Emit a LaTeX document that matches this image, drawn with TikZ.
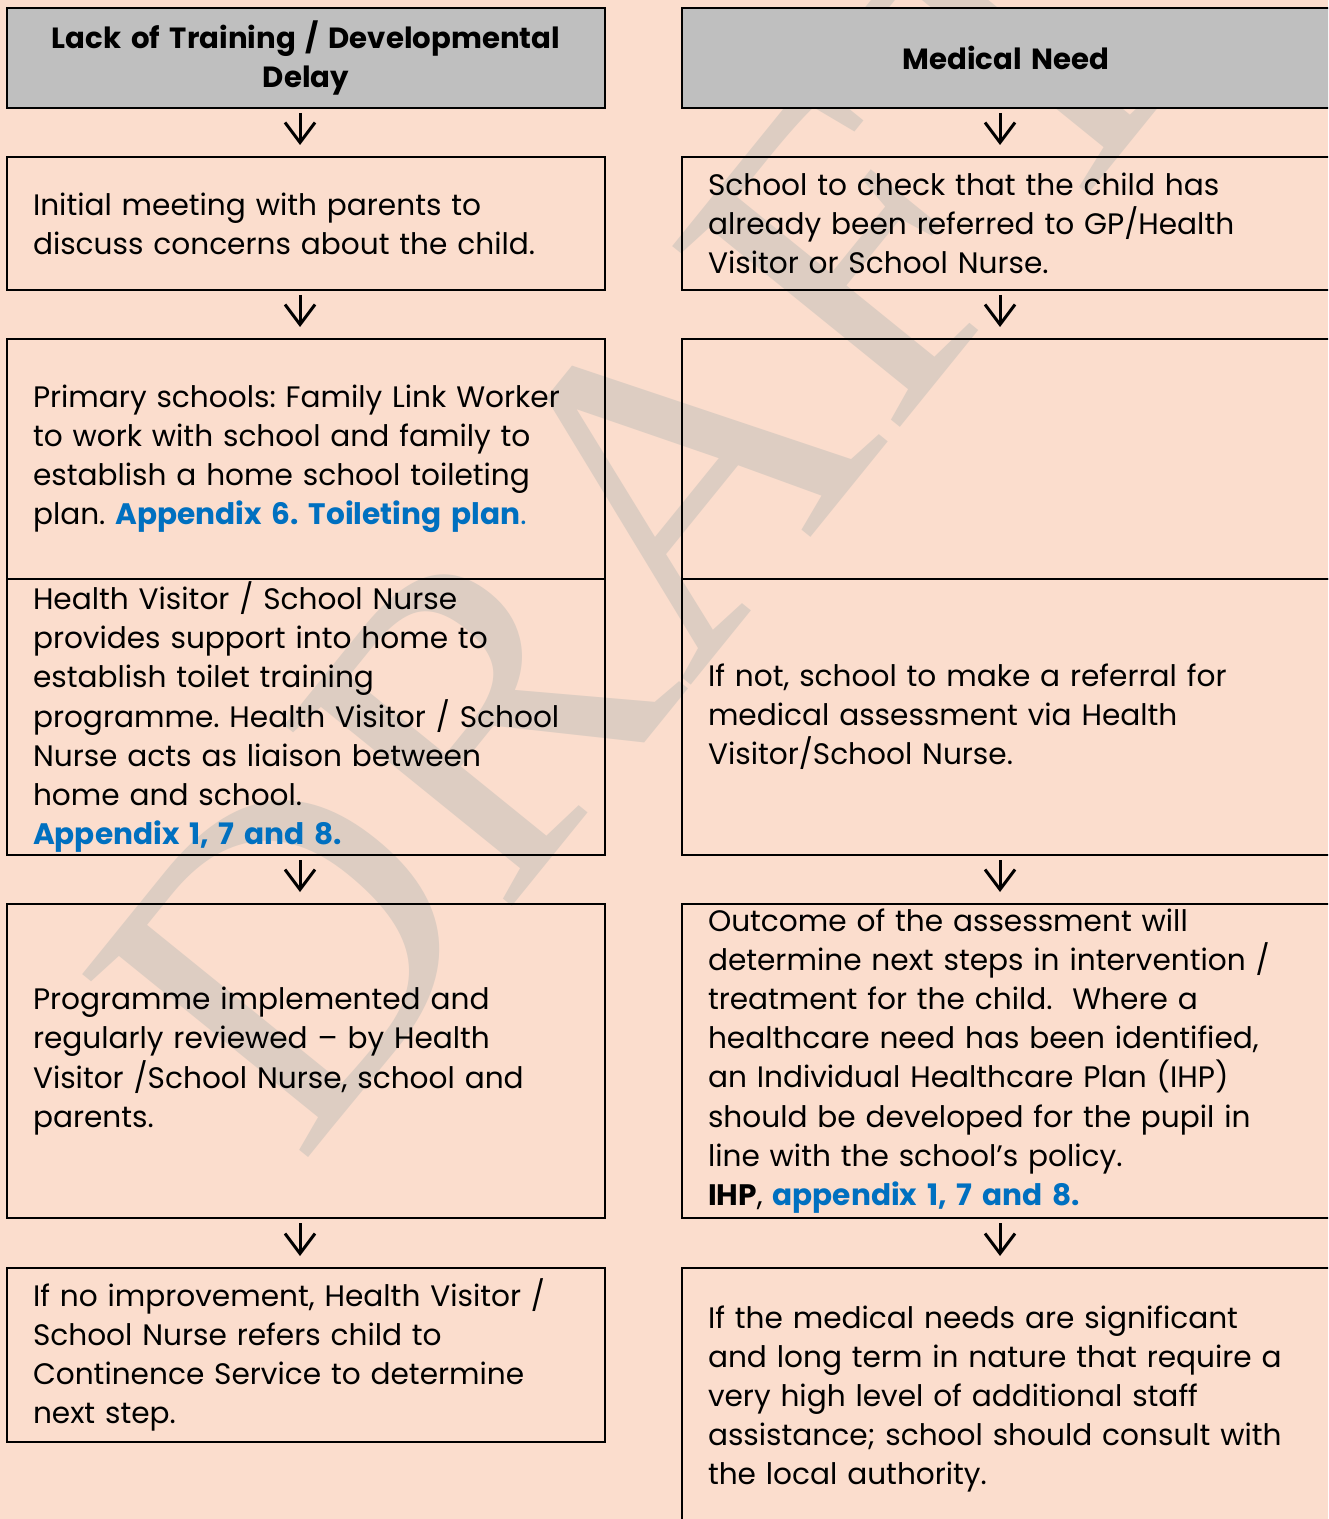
\documentclass[tikz,border=0pt]{standalone}
\usepackage{fontspec}
\setmainfont{Poppins}
\newfontfamily\wmfont{Liberation Serif}
\usetikzlibrary{arrows.meta}
\frenchspacing

\definecolor{pagepeach}{RGB}{251,221,205}
\definecolor{headgray}{RGB}{191,191,191}
\definecolor{linkblue}{RGB}{0,112,192}
\definecolor{wmgray}{RGB}{221,205,194}

\newcommand{\apx}[1]{\textcolor{linkblue}{\bfseries #1}}

\tikzset{
  flowbox/.style={draw, line width=1pt, inner xsep=13pt, inner ysep=0pt, align=left,
    font=\fontsize{14.8}{19.6}\selectfont},
  leftbox/.style={flowbox, text width=273pt},
  rightbox/.style={flowbox, text width=298pt},
  headbox/.style={fill=headgray, align=center, font=\fontsize{14.6}{19.6}\selectfont\bfseries},
  nextstep/.style={-{Straight Barb[length=10pt,width=15pt,line width=1.5pt]}, line width=1.5pt,
    shorten <=2pt, shorten >=5.5pt}
}

\begin{document}
\begin{tikzpicture}[x=0.5pt,y=-0.5pt]
  \useasboundingbox (0,0) rectangle (1328,1519);
  \clip (0,0) rectangle (1328,1519);
  \fill[pagepeach] (0,0) rectangle (1328,1519);

  % watermark
  \node[rotate=51, text=wmgray, font=\wmfont\fontsize{222}{222}\selectfont] (draft) at (645,510) {DRAFT};

  % left column
  \node[leftbox, headbox, minimum height=50pt] (lhead) at (306,58)
    {Lack of Training / Developmental\\ Delay};
  \node[leftbox, minimum height=66.5pt] (lmeet) at (306,223.5)
    {Initial meeting with parents to\\ discuss concerns about the child.};
  \node[leftbox, minimum height=120pt] (lplan) at (306,459)
    {Primary schools: Family Link Worker\\ to work with school and family to\\
     establish a home school toileting\\ plan. \apx{Appendix 6. Toileting plan}\textcolor{linkblue}{.}};
  \node[leftbox, minimum height=138pt] (lhv) at (306,717)
    {Health Visitor / School Nurse\\ provides support into home to\\ establish toilet training\\
     programme. Health Visitor / School\\ Nurse acts as liaison between\\ home and school.\\
     \apx{Appendix 1, 7 and 8.}};
  \node[leftbox, minimum height=157pt] (lreview) at (306,1061)
    {Programme implemented and\\ regularly reviewed -- by Health\\
     Visitor /School Nurse, school and\\ parents.};
  \node[leftbox, minimum height=87pt] (lrefer) at (306,1355)
    {If no improvement, Health Visitor /\\ School Nurse refers child to\\
     Continence Service to determine\\ next step.};

  % right column
  \node[rightbox, headbox, minimum height=50pt] (rhead) at (1006,58) {Medical Need};
  \node[rightbox, minimum height=66.5pt] (rcheck) at (1006,223.5)
    {School to check that the child has\\ already been referred to GP/Health\\
     Visitor or School Nurse.};
  \node[rightbox, minimum height=120pt] (rblank) at (1006,459) {};
  \node[rightbox, minimum height=138pt] (rnot) at (1006,717)
    {If not, school to make a referral for\\ medical assessment via Health\\
     Visitor/School Nurse.};
  \node[rightbox, minimum height=157pt] (rout) at (1006,1061)
    {Outcome of the assessment will\\ determine next steps in intervention /\\
     treatment for the child.\ \ Where a\\ healthcare need has been identified,\\
     an Individual Healthcare Plan (IHP)\\ should be developed for the pupil in\\
     line with the school’s policy.\\ \textbf{IHP}, \apx{appendix 1, 7 and 8.}};
  \node[rightbox, minimum height=131pt] (rla) at (1006,1399)
    {If the medical needs are significant\\ and long term in nature that require a\\
     very high level of additional staff\\ assistance; school should consult with\\
     the local authority.};

  % arrows
  \foreach \a/\b in {lhead/lmeet, lmeet/lplan, lhv/lreview, lreview/lrefer,
                     rhead/rcheck, rcheck/rblank, rnot/rout, rout/rla}
    \draw[nextstep] ([xshift=-3pt]\a.south) -- ([xshift=-3pt]\b.north);

\end{tikzpicture}
\end{document}
